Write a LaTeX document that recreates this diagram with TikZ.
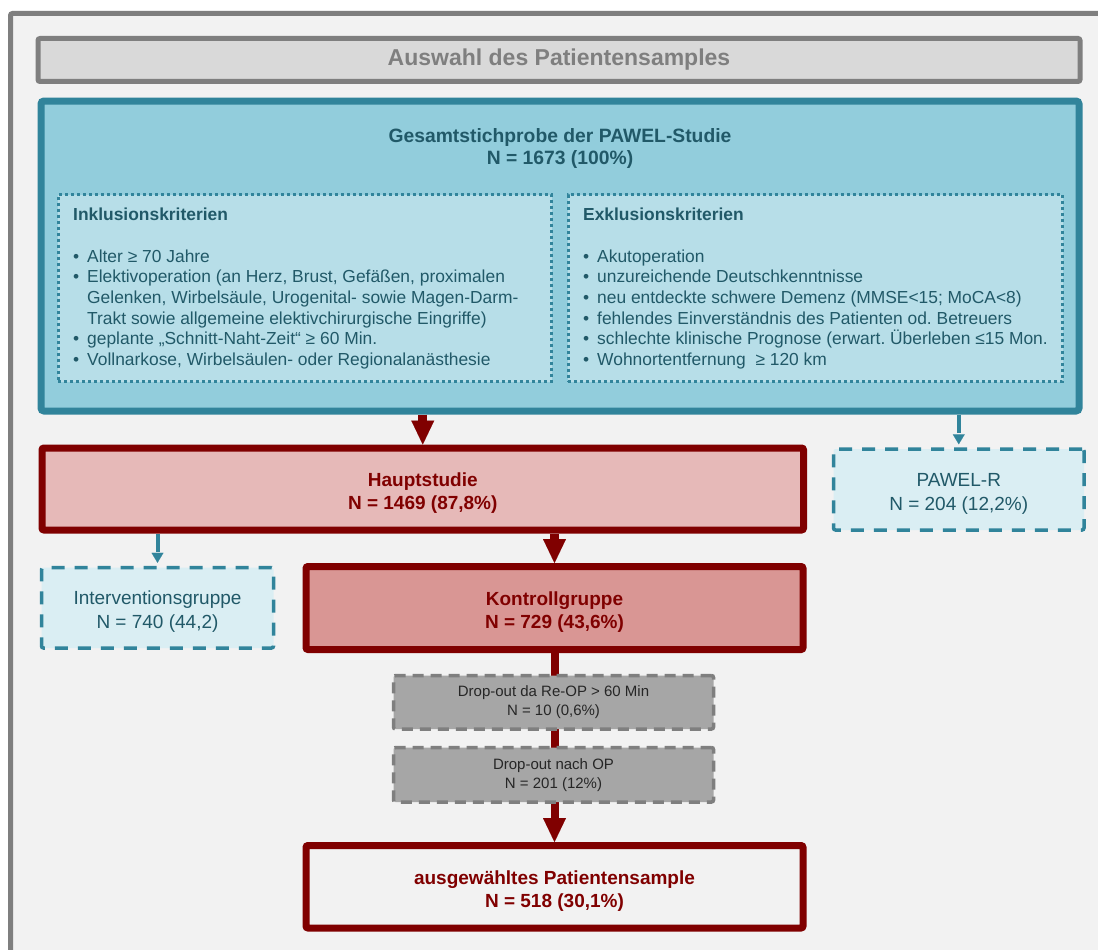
\documentclass[tikz,border=0pt]{standalone}
\usepackage{fontspec}
\setmainfont{Liberation Sans}
\usetikzlibrary{arrows.meta}
\frenchspacing

\definecolor{rahmengrau}{HTML}{7F7F7F}
\definecolor{hintergrund}{HTML}{F2F2F2}
\definecolor{titelgrau}{HTML}{D9D9D9}
\definecolor{petrol}{HTML}{31849B}
\definecolor{petroldunkel}{HTML}{215968}
\definecolor{hellblau}{HTML}{92CDDC}
\definecolor{blassblau}{HTML}{B7DEE8}
\definecolor{eisblau}{HTML}{DAEEF3}
\definecolor{dunkelrot}{HTML}{800000}
\definecolor{rosa}{HTML}{E6B9B8}
\definecolor{altrosa}{HTML}{D99694}
\definecolor{mittelgrau}{HTML}{A6A6A6}
\definecolor{textgrau}{HTML}{262626}

\newcommand{\punkt}{\makebox[14pt][l]{\textbullet}}
\newcommand{\einzug}{\hspace*{14pt}}
\newcommand{\hoch}{\rule{0pt}{21.5pt}}

\tikzset{
  titelbox/.style={draw=rahmengrau, fill=titelgrau, line width=5pt, rounded corners=2pt,
    inner sep=0pt, text=rahmengrau, font=\fontsize{23}{27}\selectfont\bfseries},
  studienbox/.style={draw=petrol, fill=hellblau, line width=7pt, rounded corners=3pt, inner sep=0pt},
  kritbox/.style={draw=petrol, fill=blassblau, line width=3pt, dash pattern=on 3pt off 3pt, inner sep=0pt},
  kriterien/.style={inner sep=0pt, align=left, text=petroldunkel, font=\fontsize{17.4}{20.7}\selectfont},
  rotbox/.style={draw=dunkelrot, line width=7pt, rounded corners=2pt, inner sep=0pt, align=center,
    text=dunkelrot, font=\fontsize{19}{23}\selectfont\bfseries},
  nebenbox/.style={draw=petrol, fill=eisblau, line width=3.5pt, dash pattern=on 13pt off 10pt,
    rounded corners=2pt, inner sep=0pt, align=center, text=petroldunkel, font=\fontsize{19}{24}\selectfont},
  dropbox/.style={draw=rahmengrau, fill=mittelgrau, line width=3.5pt, dash pattern=on 11pt off 7pt,
    rounded corners=2pt, inner sep=0pt, align=center, text=textgrau, font=\fontsize{15}{19}\selectfont},
  rotpfeil/.style={draw=dunkelrot, line width=9pt, -{Triangle[length=24pt,width=23pt,line width=0.01pt]}},
  petrolpfeil/.style={draw=petrol, line width=4pt, dash pattern=on 18pt off 6pt, shorten >=3pt,
    -{Triangle[length=10pt,width=12pt,line width=0.01pt]}}
}

\begin{document}
\begin{tikzpicture}[x=1pt,y=-1pt]
  \useasboundingbox (0,0) rectangle (1098,950);
  \fill[white] (0,0) rectangle (1098,950);
  % Rahmen
  \fill[hintergrund] (10.5,13.5) rectangle (1098,950);
  \draw[rahmengrau, line width=5pt, rounded corners=2pt] (1100,13.5) -- (10.5,13.5) -- (10.5,952);

  \node[titelbox, minimum width=1042pt, minimum height=43pt] (titel) at (559,60) {Auswahl des Patientensamples};

  % Gesamtstichprobe
  \node[studienbox, minimum width=1038pt, minimum height=310pt] (stichprobe) at (560,256) {};
  \node[align=center, inner sep=0pt, text=petroldunkel, font=\fontsize{19.3}{22}\selectfont\bfseries]
    (stichprobetext) at (560,149) {Gesamtstichprobe der PAWEL-Studie\\N = 1673 (100\%)};
  \node[kritbox, minimum width=493.5pt, minimum height=187pt] (inkl) at (304.75,288) {};
  \node[kritbox, minimum width=494.5pt, minimum height=187pt] (exkl) at (815.25,288) {};
  \node[kriterien, anchor=north west] (inkltext) at (73,207.5) {\textbf{Inklusionskriterien}\\[21pt]
    \punkt Alter ≥ 70 Jahre\\
    \punkt Elektivoperation (an Herz, Brust, Gefäßen, proximalen\\
    \einzug Gelenken, Wirbelsäule, Urogenital- sowie Magen-Darm-\\
    \einzug Trakt sowie allgemeine elektivchirurgische Eingriffe)\\
    \punkt geplante „Schnitt-Naht-Zeit“ ≥ 60 Min.\\
    \punkt Vollnarkose, Wirbelsäulen- oder Regionalanästhesie};
  \node[kriterien, anchor=north west] (exkltext) at (583,207.5) {\textbf{Exklusionskriterien}\\[21pt]
    \punkt Akutoperation\\
    \punkt unzureichende Deutschkenntnisse\\
    \punkt neu entdeckte schwere Demenz (MMSE<15; MoCA<8)\\
    \punkt fehlendes Einverständnis des Patienten od. Betreuers\\
    \punkt schlechte klinische Prognose (erwart. Überleben ≤15 Mon.\\
    \punkt Wohnortentfernung~ ≥ 120 km};

  % Studienarme
  \node[rotbox, fill=rosa, minimum width=761.5pt, minimum height=82pt] (haupt) at (422.75,489)
    {\hoch Hauptstudie\\N = 1469 (87,8\%)};
  \node[nebenbox, minimum width=250.5pt, minimum height=81pt] (pawelr) at (958.75,489.5)
    {\hoch PAWEL-R\\N = 204 (12,2\%)};
  \node[nebenbox, minimum width=232pt, minimum height=80.5pt] (interv) at (157.5,607.75)
    {\hoch Interventionsgruppe\\N = 740 (44,2)};
  \node[rotbox, fill=altrosa, minimum width=497pt, minimum height=83pt] (kontr) at (554.5,608)
    {\hoch Kontrollgruppe\\N = 729 (43,6\%)};
  \node[rotbox, fill=hintergrund, minimum width=497pt, minimum height=82.5pt] (auswahl) at (554.5,886.75)
    {\hoch ausgewähltes Patientensample\\N = 518 (30,1\%)};

  \draw[rotpfeil] (haupt.north |- stichprobe.south) -- (haupt.north);
  \draw[petrolpfeil] (pawelr.north |- stichprobe.south) -- (pawelr.north);
  \draw[rotpfeil] (kontr.north |- haupt.south) -- (kontr.north);
  \draw[petrolpfeil] (interv.north |- haupt.south) -- (interv.north);
  \draw[rotpfeil, line width=8pt] (kontr.south) -- (auswahl.north);

  % Drop-outs
  \node[dropbox, minimum width=320pt, minimum height=53.5pt] (drop1) at (553.5,702.25)
    {Drop-out da Re-OP > 60 Min\\N = 10 (0,6\%)};
  \node[dropbox, minimum width=320pt, minimum height=54.5pt] (drop2) at (553.5,774.75)
    {Drop-out nach OP\\N = 201 (12\%)};
\end{tikzpicture}
\end{document}
